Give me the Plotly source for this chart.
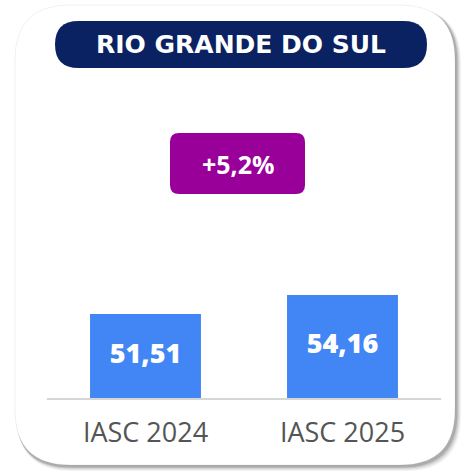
import plotly.graph_objects as go

# ---- data ----
categories = ["IASC 2024", "IASC 2025"]
values = [51.51, 54.16]
title_text = "RIO GRANDE DO SUL"
change_text = "+5,2%"

W, H = 462, 472
BAR_COLOR = "#4285F4"
NAVY = "#0B2262"
PURPLE = "#990099"
Y_MIN, Y_MAX = 39.8, 78.6


def px_x(x):
    return x / W


def px_y(y):
    return 1 - y / H


def rounded_rect(x0, y0, x1, y1, r):
    # pixel coords (top-left origin) -> paper path
    def p(x, y):
        return f"{px_x(x):.5f},{px_y(y):.5f}"
    return (
        f"M {p(x0 + r, y0)} L {p(x1 - r, y0)} Q {p(x1, y0)} {p(x1, y0 + r)} "
        f"L {p(x1, y1 - r)} Q {p(x1, y1)} {p(x1 - r, y1)} "
        f"L {p(x0 + r, y1)} Q {p(x0, y1)} {p(x0, y1 - r)} "
        f"L {p(x0, y0 + r)} Q {p(x0, y0)} {p(x0 + r, y0)} Z"
    )


shapes = []
# soft shadow layers
for i, a in enumerate([0.05, 0.07, 0.10, 0.14]):
    off = 6 - i * 1.2
    shapes.append(dict(type="path", xref="paper", yref="paper", layer="below",
                       path=rounded_rect(15 + off * 0.3, 6 + off * 0.3, 455 + off, 465 + off, 55),
                       fillcolor=f"rgba(0,0,0,{a})", line=dict(width=0)))
# card
shapes.append(dict(type="path", xref="paper", yref="paper", layer="below",
                   path=rounded_rect(15, 5, 455, 465, 55),
                   fillcolor="white", line=dict(color="rgba(0,0,0,0.06)", width=1)))
# title pill
shapes.append(dict(type="path", xref="paper", yref="paper", layer="above",
                   path=rounded_rect(55, 21, 427, 68, 23.5),
                   fillcolor=NAVY, line=dict(width=0)))
# change badge
shapes.append(dict(type="path", xref="paper", yref="paper", layer="above",
                   path=rounded_rect(170, 133, 305, 194, 9),
                   fillcolor=PURPLE, line=dict(width=0)))

labels = [f"{v:.2f}".replace(".", ",") for v in values]

fig = go.Figure()
fig.add_trace(go.Bar(
    x=categories, y=values, width=0.563,
    marker=dict(color=BAR_COLOR, line=dict(width=0)),
    textposition="none", hoverinfo="skip",
))
fig.add_trace(go.Scatter(
    x=categories, y=[(Y_MIN + v) / 2 for v in values],
    mode="text", text=labels, textposition="middle center",
    textfont=dict(family="Open Sans", size=27, color="white", weight=800),
    hoverinfo="skip", cliponaxis=False,
))

fig.update_layout(
    width=W, height=H,
    margin=dict(l=0, r=0, t=0, b=0),
    paper_bgcolor="white", plot_bgcolor="rgba(0,0,0,0)",
    showlegend=False,
    shapes=shapes,
    xaxis=dict(domain=[px_x(47), px_x(441)], range=[-0.5, 1.5], showgrid=False,
               showline=True, linecolor="#D6D6D6", linewidth=2,
               ticks="outside", ticklen=10, tickcolor="rgba(0,0,0,0)",
               tickfont=dict(family="Open Sans", size=27, color="#555555"),
               fixedrange=True),
    yaxis=dict(domain=[px_y(398), px_y(120)], range=[Y_MIN, Y_MAX], visible=False,
               fixedrange=True),
    annotations=[
        dict(xref="paper", yref="paper", x=px_x(241), y=px_y(45), text=title_text,
             showarrow=False, xanchor="center", yanchor="middle",
             font=dict(family="DejaVu Sans", size=25, color="white", weight="bold")),
        dict(xref="paper", yref="paper", x=px_x(238), y=px_y(164), text=change_text,
             showarrow=False, xanchor="center", yanchor="middle",
             font=dict(family="Open Sans", size=25, color="white", weight="bold")),
    ],
)

fig.write_html("out.html", config={"displayModeBar": False},
               post_script="document.body.style.margin='0';")
